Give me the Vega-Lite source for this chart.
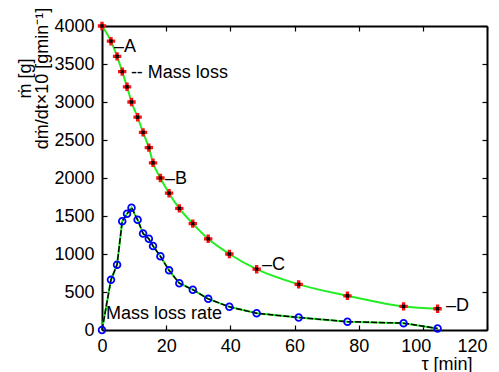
{
  "$schema": "https://vega.github.io/schema/vega-lite/v6.json",
  "autosize": {"type": "none"},
  "width": 385,
  "height": 304,
  "padding": {"left": 102, "top": 26, "right": 12, "bottom": 42},
  "background": "white",
  "config": {
    "view": {"stroke": null},
    "font": "Liberation Sans",
    "axis": {
      "labelFont": "Liberation Sans",
      "titleFont": "Liberation Sans",
      "labelFontSize": 18,
      "titleFontSize": 18,
      "labelColor": "black",
      "titleColor": "black",
      "titleFontWeight": "normal",
      "domainColor": "black",
      "domainWidth": 2,
      "tickColor": "black",
      "tickWidth": 1.2,
      "tickSize": -5,
      "grid": false
    }
  },
  "datasets": {
    "series": [
      {"t": 0, "m": 4000, "r": 0},
      {"t": 2.8, "m": 3800, "r": 660},
      {"t": 4.7, "m": 3600, "r": 860},
      {"t": 6.3, "m": 3400, "r": 1430},
      {"t": 7.8, "m": 3200, "r": 1530},
      {"t": 9.2, "m": 3000, "r": 1610},
      {"t": 11.1, "m": 2800, "r": 1450},
      {"t": 12.8, "m": 2600, "r": 1270},
      {"t": 14.6, "m": 2400, "r": 1200},
      {"t": 15.9, "m": 2200, "r": 1105},
      {"t": 18.2, "m": 2000, "r": 970},
      {"t": 20.9, "m": 1800, "r": 785},
      {"t": 24.1, "m": 1600, "r": 615},
      {"t": 28.3, "m": 1400, "r": 530},
      {"t": 33.1, "m": 1200, "r": 410},
      {"t": 39.7, "m": 1000, "r": 305},
      {"t": 48.2, "m": 800, "r": 220},
      {"t": 61.3, "m": 600, "r": 165},
      {"t": 76.5, "m": 450, "r": 110},
      {"t": 94.0, "m": 310, "r": 90},
      {"t": 104.6, "m": 280, "r": 20}
    ],
    "notes": [
      {"x": 3.75, "y": 3728, "label": "–A"},
      {"x": 19.6, "y": 1987, "label": "–B"},
      {"x": 49.9, "y": 855, "label": "–C"},
      {"x": 107.2, "y": 316, "label": "–D"},
      {"x": 9.0, "y": 3382, "label": "-- Mass loss"},
      {"x": 1.25, "y": 210, "label": "Mass loss rate"}
    ]
  },
  "resolve": {"axis": {"x": "independent", "y": "independent"}},
  "layer": [
    {
      "data": {"name": "series"},
      "mark": {"type": "line", "color": "#22ee22", "strokeWidth": 2, "interpolate": "monotone"},
      "encoding": {
        "x": {"field": "t", "type": "quantitative",
              "scale": {"domain": [0, 120], "nice": false, "zero": false},
              "axis": {"orient": "bottom", "values": [0, 20, 40, 60, 80, 100, 120], "labelPadding": 12,
                       "labelOffset": {"condition": [{"test": "datum.value == 120", "value": -15}, {"test": "datum.value == 100", "value": -7}], "value": 0},
                       "title": "τ [min]", "titleAnchor": "end", "titleAlign": "right", "titleX": 370, "titleY": 39,
                       "titleBaseline": "alphabetic", "labelFlush": false}},
        "y": {"field": "m", "type": "quantitative",
              "scale": {"domain": [0, 4000], "nice": false, "zero": false},
              "axis": {"orient": "left", "values": [0, 500, 1000, 1500, 2000, 2500, 3000, 3500, 4000], "format": "d", "labelPadding": 13,
                       "title": ["ṁ [g]", "dṁ/dt×10 [gmin⁻¹]"], "titleAngle": -90, "titleAlign": "center",
                       "titleBaseline": "top", "titleX": -86, "titleY": 52, "titleLineHeight": 17, "labelFlush": false}}
      }
    },
    {
      "data": {"name": "series"},
      "mark": {"type": "line", "color": "#22ee22", "strokeWidth": 2},
      "encoding": {
        "x": {"field": "t", "type": "quantitative",
              "axis": {"orient": "top", "values": [0, 20, 40, 60, 80, 100, 120], "labels": false, "title": null}},
        "y": {"field": "r", "type": "quantitative",
              "axis": {"orient": "right", "values": [0, 500, 1000, 1500, 2000, 2500, 3000, 3500, 4000], "labels": false, "title": null}}
      }
    },
    {
      "data": {"name": "series"},
      "mark": {"type": "line", "color": "black", "strokeWidth": 1.5, "strokeDash": [6, 2]},
      "encoding": {
        "x": {"field": "t", "type": "quantitative", "axis": null},
        "y": {"field": "r", "type": "quantitative", "axis": null}
      }
    },
    {
      "data": {"name": "series"},
      "mark": {"type": "point", "shape": "circle", "color": "#0000ff", "filled": false, "strokeWidth": 1.8, "size": 45, "opacity": 1},
      "encoding": {
        "x": {"field": "t", "type": "quantitative", "axis": null},
        "y": {"field": "r", "type": "quantitative", "axis": null}
      }
    },
    {
      "data": {"name": "series"},
      "mark": {"type": "point", "shape": "cross", "color": "#ff1010", "filled": true, "size": 70, "opacity": 1},
      "encoding": {
        "x": {"field": "t", "type": "quantitative", "axis": null},
        "y": {"field": "m", "type": "quantitative", "axis": null}
      }
    },
    {
      "data": {"name": "series"},
      "mark": {"type": "point", "shape": "cross", "angle": 45, "color": "black", "filled": true, "size": 18, "opacity": 1},
      "encoding": {
        "x": {"field": "t", "type": "quantitative", "axis": null},
        "y": {"field": "m", "type": "quantitative", "axis": null}
      }
    },
    {
      "data": {"name": "notes"},
      "mark": {"type": "text", "align": "left", "baseline": "middle", "font": "Liberation Sans", "fontSize": 18, "color": "black"},
      "encoding": {
        "x": {"field": "x", "type": "quantitative", "axis": null},
        "y": {"field": "y", "type": "quantitative", "axis": null},
        "text": {"field": "label", "type": "nominal"}
      }
    }
  ]
}
